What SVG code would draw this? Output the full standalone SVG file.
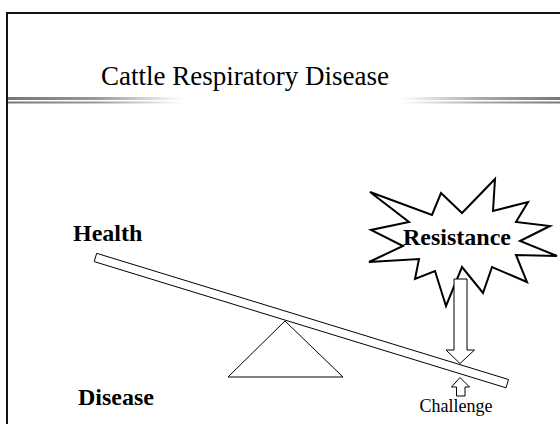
<svg xmlns="http://www.w3.org/2000/svg" width="560" height="424" viewBox="0 0 560 424">
  <defs>
    <linearGradient id="fadeL" x1="0" y1="0" x2="1" y2="0">
      <stop offset="0" stop-color="#777"/>
      <stop offset="0.5" stop-color="#999"/>
      <stop offset="1" stop-color="#fff"/>
    </linearGradient>
    <linearGradient id="fadeR" x1="0" y1="0" x2="1" y2="0">
      <stop offset="0" stop-color="#fff"/>
      <stop offset="0.5" stop-color="#aaa"/>
      <stop offset="1" stop-color="#777"/>
    </linearGradient>
  </defs>
  <style>
    .shape { fill: #fff; stroke: #000; stroke-width: 1; stroke-linejoin: miter; }
    .star { fill: #fff; stroke: #000; stroke-width: 2; stroke-linejoin: miter; }
    .label { font-family: "Liberation Serif", "Times New Roman", serif; fill: #000; }
    .bold { font-weight: bold; font-size: 24px; }
  </style>
  <rect width="560" height="424" fill="#fff"/>
  <!-- slide frame -->
  <g id="frame" stroke="#111" stroke-width="2" fill="none">
    <line x1="7" y1="13" x2="560" y2="13"/>
    <line x1="7" y1="12" x2="7" y2="424"/>
  </g>
  <!-- title -->
  <g id="title">
    <text class="label" x="245" y="85" font-size="27" text-anchor="middle">Cattle Respiratory Disease</text>
    <rect x="8" y="97" width="175" height="3" fill="url(#fadeL)"/>
    <rect x="8" y="101.5" width="175" height="2" fill="url(#fadeL)"/>
    <rect x="400" y="97" width="160" height="3" fill="url(#fadeR)"/>
    <rect x="400" y="101.5" width="160" height="2" fill="url(#fadeR)"/>
  </g>
  <g id="health">
    <text class="label bold" x="73" y="241">Health</text>
  </g>
  <g id="disease">
    <text class="label bold" x="78" y="405">Disease</text>
  </g>
  <g id="fulcrum">
    <polygon class="shape" points="285,321 228,377 343,377"/>
  </g>
  <g id="beam">
    <polygon class="shape" points="96.7,253.3 508.5,379.5 506,387.8 94.2,261.6"/>
  </g>
  <g id="resistance">
    <polygon class="star" points="370,192 432,215 441,193 462,213 495,179 493,211 528,202 516,222 550,226 520,241 557,256 516,255 527,282 492,267 483,293 462,267 446,306 435,271 415,279 419,259 369,262 403,246 371,230 409,222"/>
    <text class="label bold" x="457" y="245" text-anchor="middle">Resistance</text>
  </g>
  <g id="connectors">
    <polygon class="shape" points="454,279 467,279 467,350 474.5,350 460,363.5 446,350 454,350"/>
    <polygon class="shape" points="460,377.5 469.5,387 465,387 465,396 456.5,396 456.5,387 451.5,387"/>
  </g>
  <g id="challenge">
    <text class="label" x="456" y="412" font-size="18" text-anchor="middle">Challenge</text>
  </g>
</svg>
